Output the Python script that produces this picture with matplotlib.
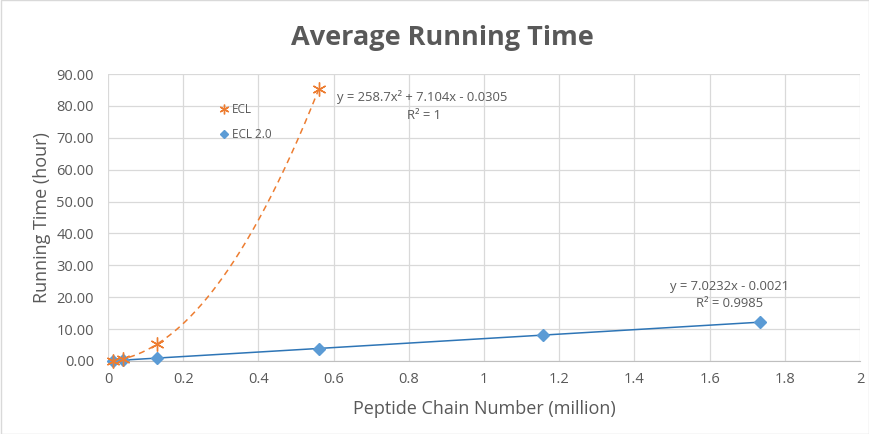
import numpy as np
import matplotlib
matplotlib.use("Agg")
import matplotlib.pyplot as plt
from matplotlib.patches import Rectangle

# data
ecl_x = [0.0145, 0.04, 0.13, 0.56]
ecl_y = [0.13, 0.66, 5.3, 85.3]
ecl2_x = [0.0145, 0.04, 0.13, 0.56, 1.157, 1.735]
ecl2_y = [0.1, 0.3, 1.0, 3.8, 8.15, 12.2]

poly_coef = [258.7, 7.104, -0.0305]
lin_coef = [7.0232, -0.0021]

x_ticks = [0, 0.2, 0.4, 0.6, 0.8, 1, 1.2, 1.4, 1.6, 1.8, 2]
x_tick_labels = ["0", "0.2", "0.4", "0.6", "0.8", "1", "1.2", "1.4", "1.6", "1.8", "2"]
y_ticks = [0, 10, 20, 30, 40, 50, 60, 70, 80, 90]

orange = "#ED7D31"
blue_m = "#5B9BD5"
blue_l = "#2E75B6"
gray = "#595959"

plt.rcParams["font.family"] = ["Open Sans", "DejaVu Sans"]

fig = plt.figure(figsize=(8.7, 4.34), dpi=100)
ax = fig.add_axes([108 / 870, 1 - 361 / 434, 752 / 870, 287 / 434])

# trendlines
xp = np.linspace(0, max(ecl_x), 200)
ax.plot(xp, np.polyval(poly_coef, xp), color=orange, lw=1.1, ls=(0, (4, 3)), zorder=2)
xl = np.linspace(0, max(ecl2_x), 50)
ax.plot(xl, np.polyval(lin_coef, xl), color=blue_l, lw=1.1, zorder=2)

# markers
ax.plot(ecl_x, ecl_y, ls="none", marker=(6, 2, 0), ms=10, mec=orange, mew=1.0,
        label="ECL", clip_on=False, zorder=4)
ax.plot(ecl2_x, ecl2_y, ls="none", marker="D", ms=6, color=blue_m, mec=blue_m,
        label="ECL 2.0", clip_on=False, zorder=3)

ax.set_xlim(0, 2)
ax.set_ylim(0, 90)
ax.set_xticks(x_ticks)
ax.set_xticklabels(x_tick_labels)
ax.set_yticks(y_ticks)
ax.set_yticklabels(["%.2f" % v for v in y_ticks])
ax.tick_params(length=0, labelsize=10.5, colors=gray)
ax.tick_params(axis="y", pad=10)
ax.tick_params(axis="x", pad=8)
ax.grid(True, color="#D9D9D9", lw=0.9)
ax.set_axisbelow(True)
for s in ["top", "right", "left"]:
    ax.spines[s].set_visible(False)
ax.spines["bottom"].set_color("#BFBFBF")

ax.set_xlabel("Peptide Chain Number (million)", fontsize=13, color=gray, labelpad=9)
ax.set_ylabel("Running Time (hour)", fontsize=13, color=gray, labelpad=4)
fig.text(0.508, 0.912, "Average Running Time", ha="center", va="center",
         fontsize=19.5, fontweight="bold", color=gray)

# trendline equations
ax.text(0.835, 82.8, "y = 258.7x² + 7.104x - 0.0305", ha="center", va="center",
        fontsize=9.4, color=gray)
ax.text(0.84, 76.9, "R² = 1", ha="center", va="center", fontsize=9.4, color=gray)
ax.text(1.652, 23.5, "y = 7.0232x - 0.0021", ha="center", va="center",
        fontsize=9.4, color=gray)
ax.text(1.652, 18.0, "R² = 0.9985", ha="center", va="center", fontsize=9.4, color=gray)

leg = ax.legend(loc="upper left", bbox_to_anchor=(0.135, 0.935), frameon=False,
                handlelength=0.7, handletextpad=0.3, labelspacing=1.0, fontsize=8.5,
                markerscale=0.7)
for t in leg.get_texts():
    t.set_color(gray)

fig.add_artist(Rectangle((0.001, 0.001), 0.998, 0.998, transform=fig.transFigure,
                         fill=False, edgecolor="#D9D9D9", lw=1))

fig.savefig("out.png", dpi=100)
